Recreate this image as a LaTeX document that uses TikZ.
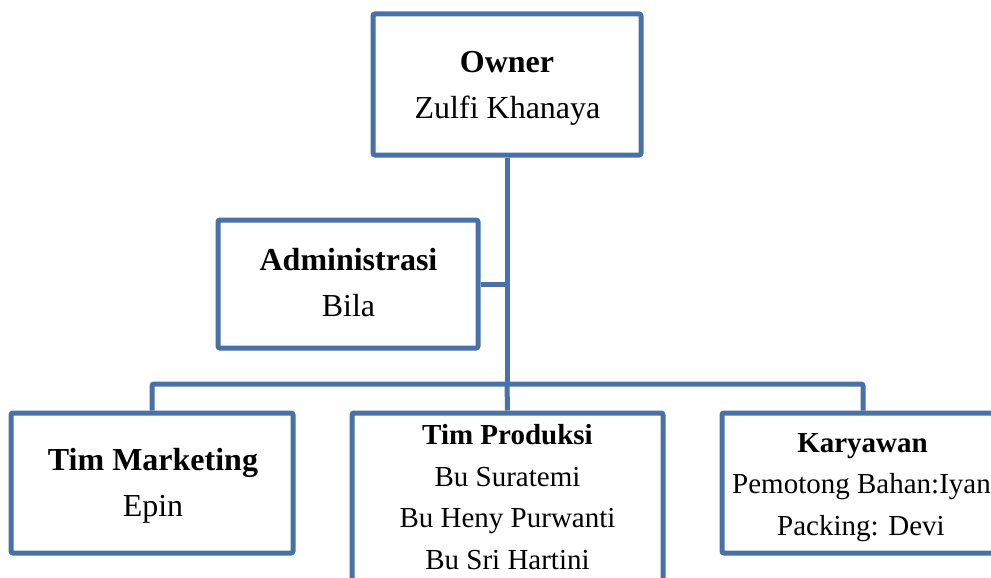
\documentclass[tikz,border=0pt]{standalone}
\usepackage{fontspec}
\setmainfont{Liberation Serif}
\definecolor{orgblue}{RGB}{72,114,167}
\tikzset{
  box/.style={draw=orgblue, line width=5pt, rounded corners=2pt, fill=white, inner sep=0pt},
  conn/.style={draw=orgblue, line width=5pt, rounded corners=2pt},
  big/.style={inner sep=0pt, anchor=base, font=\fontsize{32}{38}\selectfont},
  bigb/.style={big, font=\bfseries\fontsize{32}{38}\selectfont},
  small/.style={inner sep=0pt, anchor=base, font=\fontsize{29}{34}\selectfont},
  smallb/.style={small, font=\bfseries\fontsize{29}{34}\selectfont}
}
\begin{document}
\begin{tikzpicture}[x=1pt,y=-1pt]
\useasboundingbox (0,0) rectangle (991,578);
\clip (0,0) rectangle (991,578);
\fill[white] (0,0) rectangle (991,578);
% boxes
\node[box, minimum width=268pt, minimum height=141pt] (own) at (507,84.5) {};
\node[box, minimum width=260pt, minimum height=128pt] (adm) at (348,284) {};
\node[box, minimum width=282pt, minimum height=140pt] (mkt) at (152,483) {};
\node[box, minimum width=311pt, minimum height=180pt] (prod) at (507.5,503) {};
\node[box, minimum width=282pt, minimum height=140pt] (kar) at (863,483) {};
% connectors
\coordinate (bus) at (507,384);
\draw[conn] (own.south) -- (bus);
\draw[conn] (adm.east) -- (adm.east -| own.south);
\draw[conn] (mkt.north) |- (bus) -| (kar.north);
\draw[conn] (bus) -- (prod.north);
% texts
\node[bigb] (t1) at (507,73) {Owner};
\node[big] (t2) at (507.5,118) {Zulfi Khanaya};
\node[bigb] (t3) at (348.5,270) {Administrasi};
\node[big] (t4) at (348.5,316) {Bila};
\node[bigb] (t5) at (153,470) {Tim Marketing};
\node[big] (t6) at (153,516) {Epin};
\node[smallb] (t7) at (507.5,444) {Tim Produksi};
\node[small] (t8) at (507.5,486) {Bu Suratemi};
\node[small] (t9) at (507.5,527) {Bu Heny Purwanti};
\node[small] (t10) at (507.5,569) {Bu Sri Hartini};
\node[smallb] (t11) at (862.5,452) {Karyawan};
\node[small] (t12) at (861.5,493) {Pemotong Bahan:Iyan};
\node[small] (t13) at (861,535) {Packing: Devi};
\end{tikzpicture}
\end{document}
